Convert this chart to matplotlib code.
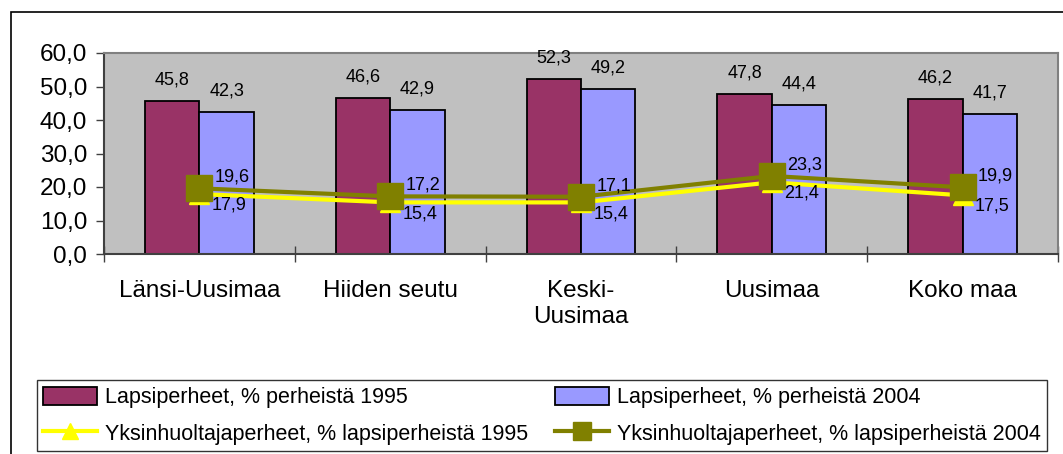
import matplotlib
matplotlib.use("Agg")
import matplotlib.pyplot as plt
import numpy as np
from matplotlib.patches import Patch, Rectangle
from matplotlib.lines import Line2D

plt.rcParams['font.family'] = ['Liberation Sans', 'DejaVu Sans']

categories = ["Länsi-Uusimaa", "Hiiden seutu", "Keski-\nUusimaa", "Uusimaa", "Koko maa"]
lapsi_1995 = [45.8, 46.6, 52.3, 47.8, 46.2]
lapsi_2004 = [42.3, 42.9, 49.2, 44.4, 41.7]
yksin_1995 = [17.9, 15.4, 15.4, 21.4, 17.5]
yksin_2004 = [19.6, 17.2, 17.1, 23.3, 19.9]
yticks = [0, 10, 20, 30, 40, 50, 60]
series_names = ["Lapsiperheet, % perheistä 1995", "Lapsiperheet, % perheistä 2004",
                "Yksinhuoltajaperheet, % lapsiperheistä 1995", "Yksinhuoltajaperheet, % lapsiperheistä 2004"]

c_maroon = "#993366"
c_blue = "#9999FF"
c_yellow = "#FFFF00"
c_olive = "#808000"

def fmt(v):
    return f"{v:.1f}".replace(".", ",")

W, H = 1063, 454
fig = plt.figure(figsize=(W / 100, H / 100), dpi=100)
ax = fig.add_axes([104 / W, 1 - 254 / H, (1058 - 104) / W, (254 - 53) / H])
ax.set_facecolor("#C0C0C0")

x = np.arange(len(categories))
bw = 0.285
ax.bar(x - bw / 2, lapsi_1995, bw, color=c_maroon, edgecolor="black", linewidth=1.3, zorder=2)
ax.bar(x + bw / 2, lapsi_2004, bw, color=c_blue, edgecolor="black", linewidth=1.3, zorder=2)

for xi, v in zip(x - bw / 2, lapsi_1995):
    ax.annotate(fmt(v), (xi, v), xytext=(0, 15), textcoords="offset points",
                ha="center", va="center", fontsize=13)
for xi, v in zip(x + bw / 2, lapsi_2004):
    ax.annotate(fmt(v), (xi, v), xytext=(0, 15), textcoords="offset points",
                ha="center", va="center", fontsize=13)

ax.plot(x, yksin_1995, color=c_yellow, lw=3, marker="^", markersize=15,
        markerfacecolor=c_yellow, markeredgecolor=c_yellow, zorder=3)
ax.plot(x, yksin_2004, color=c_olive, lw=3, marker="s", markersize=19,
        markerfacecolor=c_olive, markeredgecolor=c_olive, zorder=4)

for xi, v in zip(x, yksin_1995):
    ax.annotate(fmt(v), (xi, v), xytext=(9, -8), textcoords="offset points",
                ha="left", va="center", fontsize=13, zorder=5)
for xi, v in zip(x, yksin_2004):
    ax.annotate(fmt(v), (xi, v), xytext=(11, 8), textcoords="offset points",
                ha="left", va="center", fontsize=13, zorder=5)

ax.set_xlim(-0.5, len(categories) - 0.5)
ax.set_ylim(0, 60)
ax.set_yticks(yticks)
ax.set_yticklabels([fmt(v) for v in yticks], fontsize=17.5)
ax.tick_params(axis="y", direction="out", length=6, width=1, color="#404040", pad=6)

ax.set_xticks(x)
ax.set_xticklabels(categories, fontsize=17.5)
ax.tick_params(axis="x", which="major", length=0, pad=19)
ax.set_xticks(np.arange(len(categories) + 1) - 0.5, minor=True)
ax.tick_params(axis="x", which="minor", direction="inout", length=12, width=1, color="#404040")

for s in ax.spines.values():
    s.set_color("#808080")
    s.set_linewidth(1.5)
ax.spines["left"].set_color("#404040")
ax.spines["bottom"].set_color("#404040")

# outer chart border
fig.add_artist(Rectangle((11 / W, -0.1), 2, 1 - 12 / H + 0.1, transform=fig.transFigure,
                         fill=False, edgecolor="black", linewidth=1.2))

handles = [
    Patch(facecolor=c_maroon, edgecolor="black", linewidth=1.3),
    Line2D([], [], color=c_yellow, lw=3, marker="^", markersize=11),
    Patch(facecolor=c_blue, edgecolor="black", linewidth=1.3),
    Line2D([], [], color=c_olive, lw=3, marker="s", markersize=13),
]
labels = [series_names[0], series_names[2], series_names[1], series_names[3]]
leg = fig.legend(handles, labels, ncol=2, loc="lower left",
                 bbox_to_anchor=(36.7 / W, 1 - 451 / H, (1047 - 36.7) / W, (451 - 372) / H),
                 mode="expand", fontsize=15.5, frameon=True, fancybox=False,
                 edgecolor="black", handlelength=2.5, handleheight=0.9, handletextpad=0.35,
                 borderpad=0.3, labelspacing=0.7, columnspacing=0.5, borderaxespad=0)
leg.get_frame().set_linewidth(1.0)

fig.savefig("out.png", dpi=100)
